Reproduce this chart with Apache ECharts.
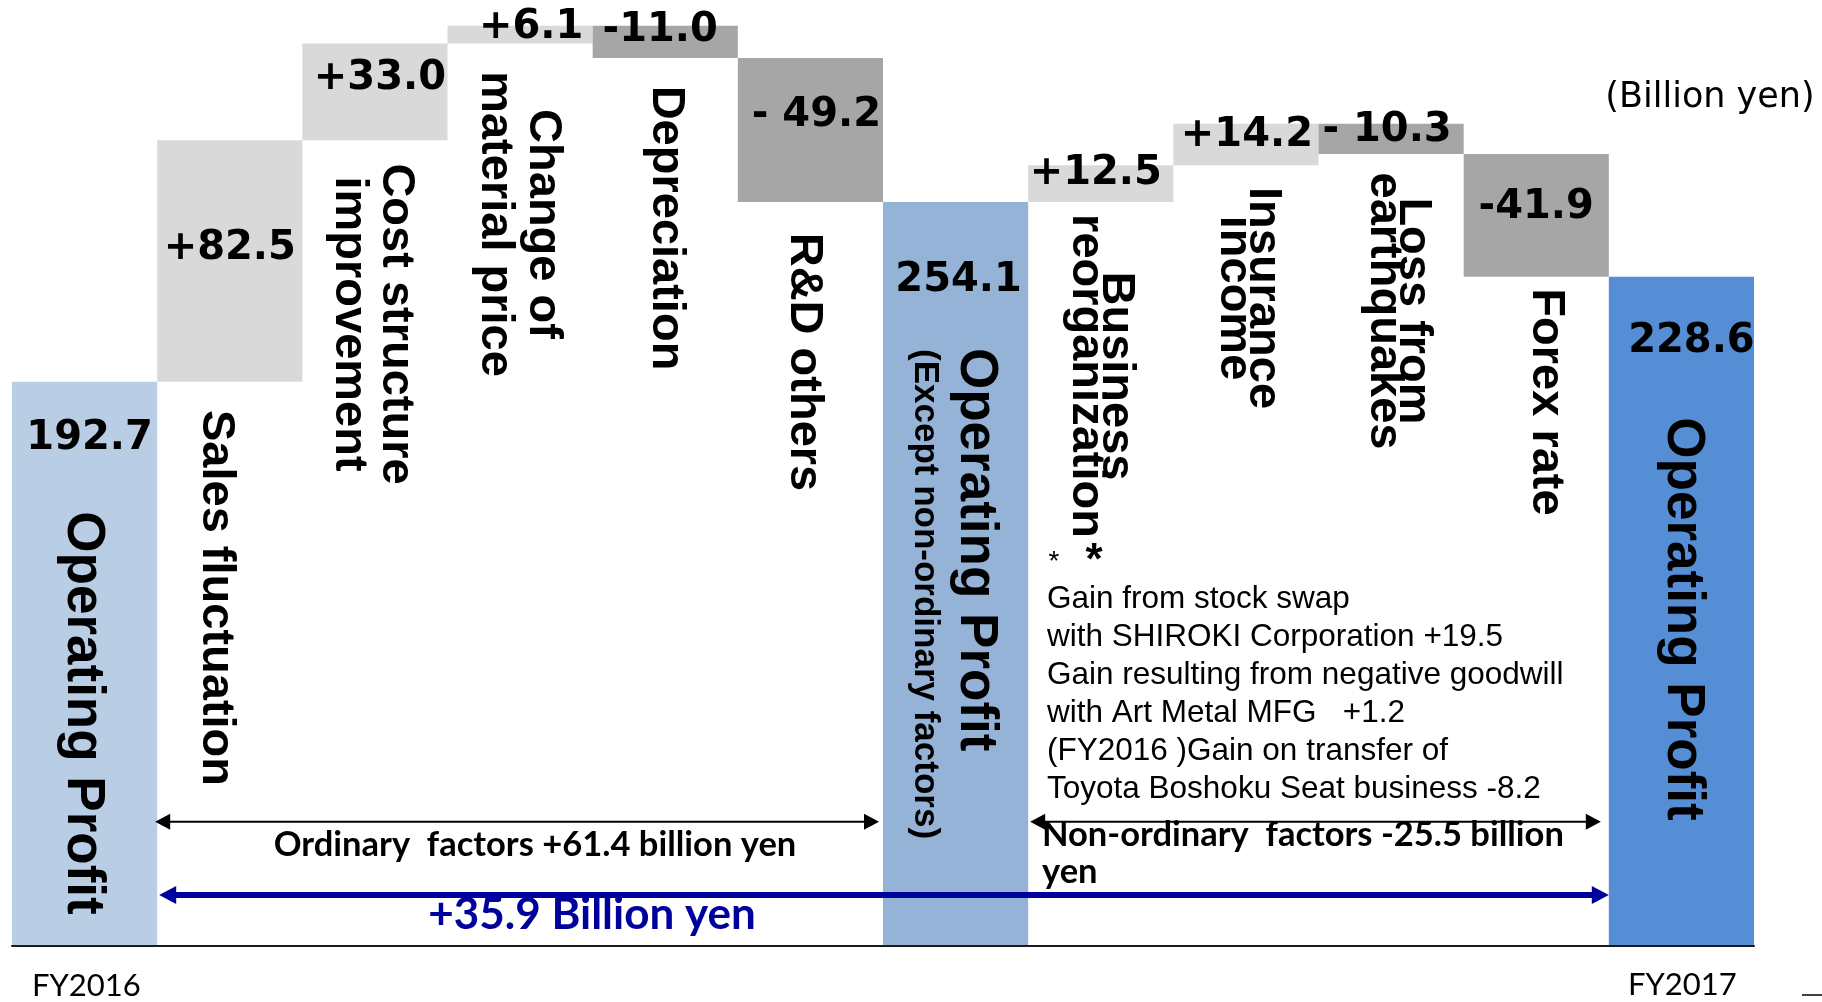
<!DOCTYPE html>
<html>
<head>
<meta charset="utf-8">
<script src="https://cdn.jsdelivr.net/npm/echarts/dist/echarts.min.js"></script>
<style>
html,body{margin:0;padding:0;background:#fff;}
#chart{width:1822px;height:1002px;}
</style>
</head>
<body>
<div id="chart"></div>
<script>
// ---------------- data ----------------
const categories = ['FY2016', 'Sales fluctuation', 'Cost structure improvement', 'Change of material price',
  'Depreciation', 'R&D others', 'Operating Profit (Except non-ordinary factors)', 'Business reorganization',
  'Insurance income', 'Loss from earthquakes', 'Forex rate', 'FY2017'];
const values = [192.7, 82.5, 33.0, 6.1, -11.0, -49.2, 254.1, 12.5, 14.2, -10.3, -41.9, 228.6];
const isTotal = [true, false, false, false, false, false, true, false, false, false, false, true];
const valueLabels = ['192.7', '+82.5', '+33.0', '+6.1', '-11.0', '- 49.2', '254.1', '+12.5', '+14.2', '- 10.3', '-41.9', '228.6'];
const barNames = ['Operating Profit', 'Sales fluctuation', 'Cost structure\nimprovement', 'Change of\nmaterial price',
  'Depreciation', 'R&D others', 'Operating Profit', 'Business\nreorganization', 'Insurance\nincome',
  'Loss from\nearthquakes', 'Forex rate', 'Operating Profit'];
const subName = '(Except non-ordinary factors)';
const yearLabels = ['FY2016', 'FY2017'];
const unitLabel = '(Billion yen)';
const noteMarks = ['*', '*'];
const noteLines = ['Gain from stock swap', 'with SHIROKI Corporation +19.5', 'Gain resulting from negative goodwill',
  'with Art Metal MFG   +1.2', '(FY2016 )Gain on transfer of', 'Toyota Boshoku Seat business -8.2'];
const ordinaryText = 'Ordinary  factors +61.4 billion yen';
const nonOrdinaryText = 'Non-ordinary  factors -25.5 billion\nyen';
const totalChangeText = '+35.9 Billion yen';

// ---------------- styles ----------------
const totalColors = ['#b9cde5', '#95b3d7', '#558ed5'];
const upColor = '#d9d9d9';
const downColor = '#a6a6a6';

// waterfall build
const baseData = [], bodyData = [];
let run = 0, totalIdx = 0;
values.forEach((v, i) => {
  if (isTotal[i]) { baseData.push(0); bodyData.push({ value: v, itemStyle: { color: totalColors[totalIdx++] } }); run = v; }
  else if (v >= 0) { baseData.push(+run.toFixed(1)); bodyData.push({ value: v, itemStyle: { color: upColor } }); run += v; }
  else { run += v; baseData.push(+run.toFixed(1)); bodyData.push({ value: -v, itemStyle: { color: downColor } }); }
});

const chart = echarts.init(document.getElementById('chart'), null, { renderer: 'canvas' });
chart.setOption({
  animation: false,
  backgroundColor: '#ffffff',
  grid: { left: 12, right: 68, top: 9, bottom: 56 },
  xAxis: {
    type: 'category', data: categories, z: 3,
    axisLine: { show: true, lineStyle: { color: '#1a1a1a', width: 2 } },
    axisTick: { show: false }, axisLabel: { show: false }, splitLine: { show: false }
  },
  yAxis: { type: 'value', min: 0, max: 320, show: false, splitLine: { show: false } },
  series: [
    { type: 'bar', stack: 'w', data: baseData, barWidth: '100%', barCategoryGap: '0%', silent: true,
      itemStyle: { color: 'rgba(0,0,0,0)' } },
    { type: 'bar', stack: 'w', data: bodyData, barWidth: '100%', barCategoryGap: '0%' }
  ]
});

// ---------------- annotations (positioned from axis scales) ----------------
const cx = i => chart.convertToPixel({ xAxisIndex: 0 }, i);
const py = v => chart.convertToPixel({ yAxisIndex: 0 }, v);
const tops = values.map((v, i) => baseData[i] + bodyData[i].value);

// value label offsets [dx, dy from bar top]
const valueOffsets = [[5, 57], [0, 108], [5, 35], [11, 2], [-5, 5], [6, 58], [3, 79], [-5, 8], [1, 12], [-4, 7], [0, 54], [10, 65]];
// category label layout: dx from category centre, y centre (or start), font size, line height, align
const nameLayout = [
  { dx: -2, y: 713, size: 53 },
  { dx: -14, y: 598, size: 47 },
  { dx: -2, y: 324, size: 47, lh: 47 },
  { dx: -1, y: 224, size: 47, lh: 48 },
  { dx: 1, y: 228, size: 47 },
  { dx: -6, y: 362, size: 47 },
  { dx: 20, y: 348, size: 53, align: 'left' },
  { dx: 0, y: 376, size: 47, lh: 30 },
  { dx: 2.5, y: 298, size: 47, lh: 29 },
  { dx: 7.5, y: 311, size: 47, lh: 29 },
  { dx: 10, y: 402, size: 47 },
  { dx: 1, y: 619, size: 53 }
];

function txt(x, y, text, o) {
  o = o || {};
  return {
    type: 'text', x: x, y: y, z: 100, rotation: o.rot || 0,
    style: {
      text: text, fill: o.color || '#000',
      fontSize: o.size, fontWeight: o.weight || 'normal', fontFamily: o.family || 'Liberation Sans',
      align: o.align || 'center', textAlign: o.align || 'center',
      verticalAlign: o.valign || 'middle', textVerticalAlign: o.valign || 'middle',
      lineHeight: o.lh
    }
  };
}
function arrow(x1, x2, y, w, head, half, color) {
  const els = [{ type: 'line', z: 90, shape: { x1: x1 + head * 0.6, y1: y, x2: x2 - head * 0.6, y2: y }, style: { stroke: color, lineWidth: w } }];
  els.push({ type: 'polygon', z: 91, shape: { points: [[x1, y], [x1 + head, y - half], [x1 + head, y + half]] }, style: { fill: color } });
  els.push({ type: 'polygon', z: 91, shape: { points: [[x2, y], [x2 - head, y - half], [x2 - head, y + half]] }, style: { fill: color } });
  return els;
}

const g = [];
values.forEach((v, i) => {
  g.push(txt(cx(i) + valueOffsets[i][0], py(tops[i]) + valueOffsets[i][1], valueLabels[i],
    { size: 40, weight: 'bold', family: 'DejaVu Sans' }));
  const L = nameLayout[i];
  g.push(txt(cx(i) + L.dx, L.y, barNames[i],
    { size: L.size, weight: 'bold', lh: L.lh, align: L.align || 'center', rot: -Math.PI / 2,
      family: '"Liberation Sans", Arial, sans-serif' }));
});
// sub title inside mid total bar
g.push(txt(cx(6) - 31, 349, subName, { size: 35, weight: 'bold', align: 'left', rot: -Math.PI / 2,
  family: '"Liberation Sans", Arial, sans-serif' }));
// unit
g.push(txt(1710, 98, unitLabel, { size: 35, family: 'DejaVu Sans' }));
// asterisks
g.push(txt(1054, 562, noteMarks[0], { size: 28 }));
g.push(txt(1094, 562, noteMarks[1], { size: 44, weight: 'bold' }));
// notes
g.push(txt(1047, 694, noteLines.join('\n'), { size: 31.5, align: 'left', lh: 38 }));
// factor texts
g.push(txt(535, 845, ordinaryText, { size: 34.5, weight: 'bold', family: 'Lato' }));
g.push(txt(1042, 853, nonOrdinaryText, { size: 34.5, weight: 'bold', family: 'Lato', align: 'left', lh: 37 }));
g.push(txt(592, 915, totalChangeText, { size: 44, weight: 'bold', family: 'Lato', color: '#00009c' }));
// years
g.push(txt(32, 986, yearLabels[0], { size: 31, family: 'Lato', align: 'left' }));
g.push(txt(1628, 985, yearLabels[1], { size: 31, family: 'Lato', align: 'left' }));
// arrows
const half = (cx(1) - cx(0)) / 2;
const xL = cx(0) + half, xM0 = cx(6) - half, xM1 = cx(6) + half, xR = cx(11) - half;
g.push(...arrow(xL - 2, xM0 - 4, 821.7, 2, 15, 8, '#000'));
g.push(...arrow(xM1 + 2, xR - 8, 821.7, 2, 15, 8, '#000'));
g.push(...arrow(xL + 2, xR, 895, 6, 17, 9, '#00009c'));
// small mark bottom right
g.push({ type: 'line', z: 90, shape: { x1: 1802, y1: 995, x2: 1822, y2: 995 }, style: { stroke: '#404040', lineWidth: 2 } });

chart.setOption({ graphic: { elements: g } });
</script>
</body>
</html>
